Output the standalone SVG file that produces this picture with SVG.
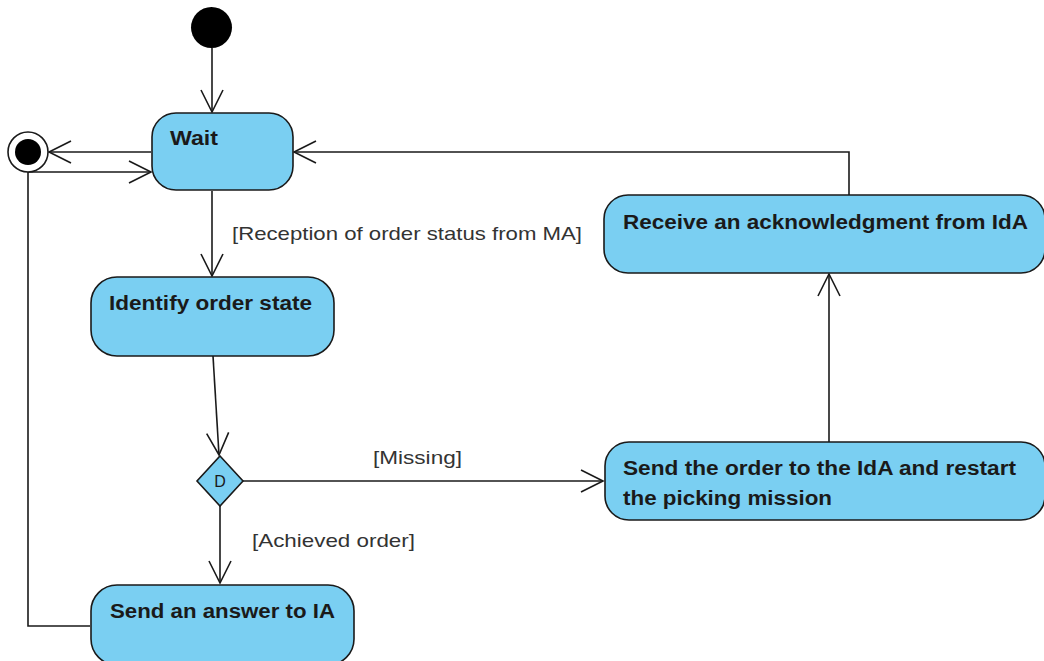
<svg xmlns="http://www.w3.org/2000/svg" width="1044" height="661" viewBox="0 0 1044 661">
  <style>
    .action { fill: #7acff2; stroke: #1a1a1a; stroke-width: 1.6; }
    .title { font-family: "Liberation Sans", Arial, sans-serif; font-size: 20px; font-weight: bold; fill: #1a1a1a; }
    .guard { font-family: "Liberation Sans", Arial, sans-serif; font-size: 19px; fill: #333333; }
    .flow { fill: none; stroke: #1a1a1a; stroke-width: 1.6; }
  </style>
  <defs>
    <marker id="open-arrow" markerUnits="userSpaceOnUse" markerWidth="30" markerHeight="30" refX="0" refY="0" orient="auto" overflow="visible">
      <path d="M -22 -11 L 0 0 L -22 11" fill="none" stroke="#1a1a1a" stroke-width="1.6"/>
    </marker>
  </defs>
  <rect width="1044" height="661" fill="#ffffff"/>

  <!-- control flows -->
  <g id="connectors">
    <path class="flow" d="M 212 48 L 212 112" marker-end="url(#open-arrow)"/>
    <path class="flow" d="M 151 152 L 49 152" marker-end="url(#open-arrow)"/>
    <path class="flow" d="M 90 626 L 28 626 L 28 172 L 151 172" marker-end="url(#open-arrow)"/>
    <path class="flow" d="M 212 191 L 212 276" marker-end="url(#open-arrow)"/>
    <path class="flow" d="M 213 356 L 219 455" marker-end="url(#open-arrow)"/>
    <path class="flow" d="M 243 481 L 603 481" marker-end="url(#open-arrow)"/>
    <path class="flow" d="M 220 506 L 220 583" marker-end="url(#open-arrow)"/>
    <path class="flow" d="M 829 442 L 829 274" marker-end="url(#open-arrow)"/>
    <path class="flow" d="M 849 195 L 849 152 L 294 152" marker-end="url(#open-arrow)"/>
    <text class="guard" x="232" y="240" textLength="350" lengthAdjust="spacingAndGlyphs">[Reception of order status from MA]</text>
    <text class="guard" x="373" y="464" textLength="89" lengthAdjust="spacingAndGlyphs">[Missing]</text>
    <text class="guard" x="252" y="547" textLength="163" lengthAdjust="spacingAndGlyphs">[Achieved order]</text>
  </g>

  <g id="initial">
    <circle cx="211.5" cy="27.5" r="20.5" fill="#000000"/>
  </g>

  <g id="final">
    <circle cx="28" cy="152" r="20" fill="#ffffff" stroke="#1a1a1a" stroke-width="1.6"/>
    <circle cx="28" cy="152" r="13" fill="#000000"/>
  </g>

  <g id="wait">
    <rect class="action" x="152" y="113" width="141" height="77" rx="24" ry="24"/>
    <text class="title" x="170" y="145" textLength="48" lengthAdjust="spacingAndGlyphs">Wait</text>
  </g>

  <g id="identify-order-state">
    <rect class="action" x="91" y="277" width="243" height="79" rx="26" ry="26"/>
    <text class="title" x="109" y="310" textLength="203" lengthAdjust="spacingAndGlyphs">Identify order state</text>
  </g>

  <g id="decision">
    <polygon class="action" points="220,456 243,481 220,506 197,481"/>
    <text x="220" y="487" text-anchor="middle" font-family="Liberation Sans, Arial, sans-serif" font-size="16" fill="#1a1a1a">D</text>
  </g>

  <g id="send-order-to-ida">
    <rect class="action" x="605" y="442" width="440" height="78" rx="24" ry="24"/>
    <text class="title" x="623" y="475" textLength="393" lengthAdjust="spacingAndGlyphs">Send the order to the IdA and restart</text>
    <text class="title" x="623" y="505" textLength="209" lengthAdjust="spacingAndGlyphs">the picking mission</text>
  </g>

  <g id="receive-acknowledgment">
    <rect class="action" x="604" y="195" width="441" height="78" rx="24" ry="24"/>
    <text class="title" x="623" y="229" textLength="405" lengthAdjust="spacingAndGlyphs">Receive an acknowledgment from IdA</text>
  </g>

  <g id="send-answer-to-ia">
    <rect class="action" x="91" y="585" width="263" height="80" rx="26" ry="26"/>
    <text class="title" x="110" y="618" textLength="225" lengthAdjust="spacingAndGlyphs">Send an answer to IA</text>
  </g>
</svg>
